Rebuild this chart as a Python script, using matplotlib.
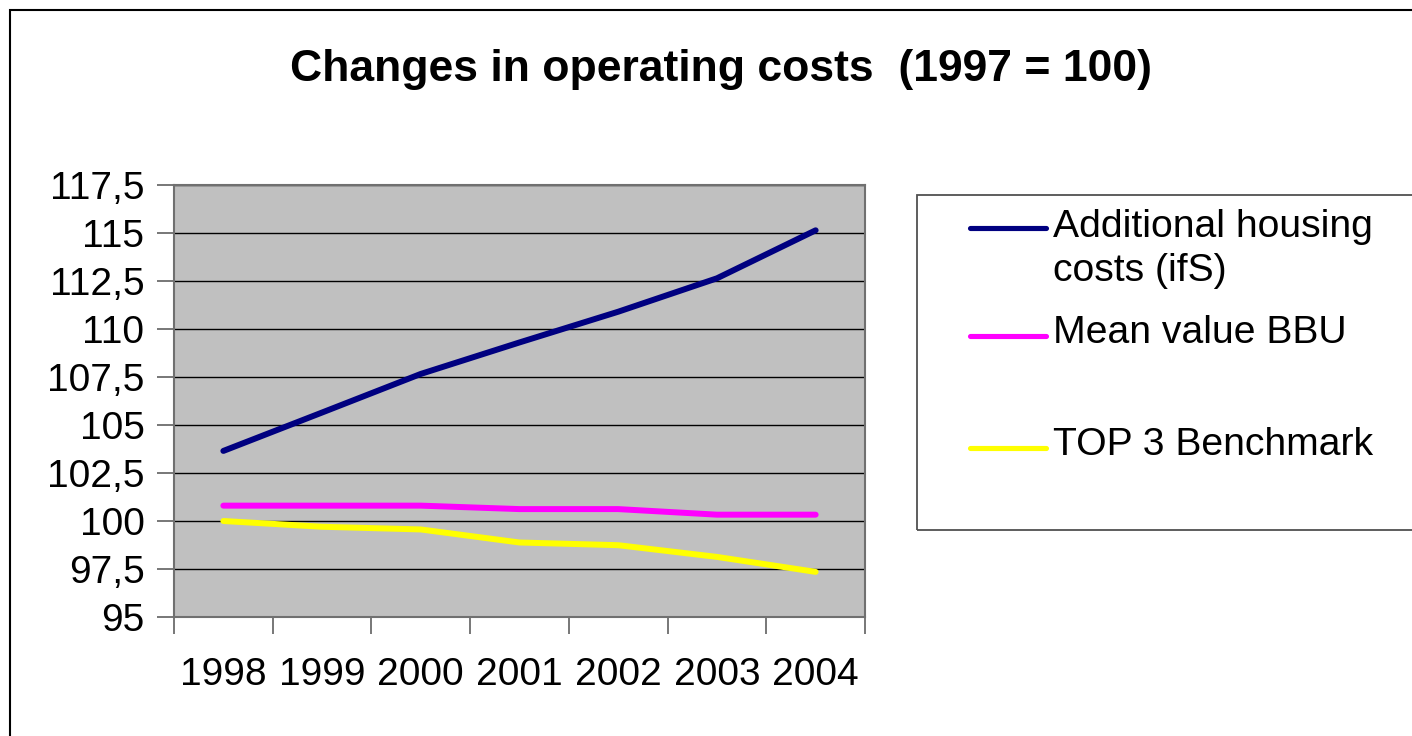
import numpy as np
import matplotlib.pyplot as plt
from matplotlib.lines import Line2D
from matplotlib.patches import Rectangle
from matplotlib.ticker import FuncFormatter

plt.rcParams['font.family'] = ['Liberation Sans', 'DejaVu Sans']

# --- data ---
years = ['1998', '1999', '2000', '2001', '2002', '2003', '2004']
housing_ifs = [103.65, 105.65, 107.66, 109.3, 110.9, 112.64, 115.14]
mean_bbu = [100.8, 100.8, 100.8, 100.62, 100.62, 100.33, 100.33]
top3_bench = [100.0, 99.7, 99.56, 98.88, 98.74, 98.13, 97.35]

labels = ['Additional housing\ncosts (ifS)', 'Mean value BBU', 'TOP 3 Benchmark']
colors = ['#000080', '#FF00FF', '#FFFF00']

W, H = 1412, 736
fig = plt.figure(figsize=(W / 100, H / 100), dpi=100)
ax = fig.add_axes([174 / W, 1 - 617 / H, (865 - 174) / W, (617 - 185) / H])


def fx(px):
    return px / W


def fy(py):
    return 1 - py / H


x = np.arange(len(years))
series = [housing_ifs, mean_bbu, top3_bench]
for vals, c in zip(series, colors):
    ax.plot(x, vals, color=c, lw=4.3, solid_capstyle='round', zorder=3)

ax.set_facecolor('#C0C0C0')
ax.set_xlim(-0.5, len(years) - 0.5)
ax.set_ylim(95, 117.5)
ax.set_yticks(np.arange(95, 117.6, 2.5))
ax.yaxis.set_major_formatter(FuncFormatter(lambda v, p: f'{v:g}'.replace('.', ',')))
ax.grid(axis='y', color='black', lw=1.0)
ax.set_axisbelow(True)

# category boundaries as ticks, labels in the middle
ax.set_xticks(np.arange(-0.5, len(years), 1.0))
ax.set_xticklabels([])
ax.set_xticks(x, minor=True)
ax.set_xticklabels(years, minor=True)
ax.tick_params(axis='x', which='major', length=12, width=1.2, color='#606060', direction='out')
ax.tick_params(axis='x', which='minor', length=0, pad=28.5, labelsize=28)
ax.tick_params(axis='y', length=12, width=1.2, color='#606060', pad=9.3, labelsize=28)

for s in ax.spines.values():
    s.set_color('#707070')
    s.set_linewidth(1.5)

fig.text(fx(721), fy(69), 'Changes in operating costs  (1997 = 100)',
         ha='center', va='center', fontsize=32, fontweight='bold')

# outer frame of the chart
fig.add_artist(Rectangle((fx(10), -0.1), 1.2, fy(10) + 0.1, transform=fig.transFigure,
                         fill=False, ec='black', lw=1.5))

# legend box
fig.add_artist(Rectangle((fx(917), fy(530)), 1.0, (530 - 195) / H, transform=fig.transFigure,
                         fill=False, ec='#505050', lw=1.3))
row_y = [228, 336, 448]
text_y = [249, 333, 445]
for lab, c, ly, ty in zip(labels, colors, row_y, text_y):
    fig.add_artist(Line2D([fx(970), fx(1046)], [fy(ly), fy(ly)], transform=fig.transFigure,
                          color=c, lw=3.7, solid_capstyle='round'))
    fig.text(fx(1053), fy(ty), lab, ha='left', va='center', fontsize=28.2,
             linespacing=1.27)

fig.savefig('out.png', dpi=100)
